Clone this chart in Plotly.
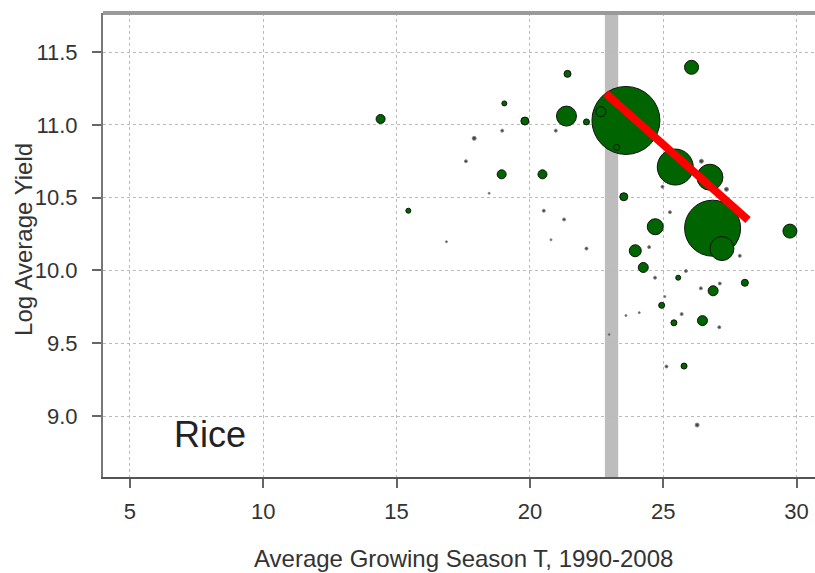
import plotly.graph_objects as go

# Average growing season temperature (deg C), 1990-2008
temps = [23.6, 25.45, 26.75, 26.85, 27.2, 21.37, 26.06, 24.7, 29.75, 23.95,
         24.25, 26.87, 26.47, 28.06, 25.4, 24.94, 23.52, 22.66, 23.25, 21.41,
         19.81, 20.97, 22.12, 20.47, 14.4, 19.04, 18.96, 17.91, 17.6, 18.94,
         18.47, 15.44, 16.87, 26.43, 24.97, 27.37, 20.52, 21.28, 20.79, 22.12,
         24.47, 25.25, 24.69, 25.56, 23.6, 24.1, 27.87, 25.85, 26.41, 27.12,
         25.69, 27.1, 25.12, 25.78, 26.27, 22.97, 25.06]
# Log average yield
log_yield = [11.03, 10.71, 10.64, 10.29, 10.15, 11.06, 11.395, 10.30, 10.27, 10.135,
             10.02, 9.86, 9.655, 9.915, 9.64, 9.76, 10.506, 11.09, 10.845, 11.35,
             11.026, 10.96, 11.02, 10.66, 11.04, 11.147, 10.96, 10.907, 10.75, 10.66,
             10.53, 10.41, 10.197, 10.75, 10.575, 10.557, 10.41, 10.35, 10.21, 10.15,
             10.16, 10.40, 9.95, 9.95, 9.69, 9.71, 10.10, 9.996, 9.877, 9.91,
             9.70, 9.61, 9.34, 9.343, 8.938, 9.56, 9.82]
# Relative production weight (bubble diameter)
weight = [68, 36, 26, 56, 24, 20, 14, 16, 14, 12,
          10, 10, 10, 7, 6, 6, 8, 10, 6, 7,
          8, 3, 6, 9, 9, 5, 3, 4, 3, 9,
          2, 5, 2, 4, 3, 4, 3, 3, 2, 3,
          3, 3, 3, 5, 2, 2, 3, 3, 3, 3,
          3, 3, 3, 6, 4, 2, 2]

# Threshold temperature and fitted slope above it
threshold_t = 23.06
fit_x = [22.84, 28.18]
fit_y = [11.216, 10.346]

x_ticks = [5, 10, 15, 20, 25, 30]
y_ticks = [9.0, 9.5, 10.0, 10.5, 11.0, 11.5]
y_tick_text = ["9.0", "9.5", "10.0", "10.5", "11.0", "11.5"]

x_title = "Average Growing Season T, 1990-2008"
y_title = "Log Average Yield"
panel_label = "Rice"

order = sorted(range(len(weight)), key=lambda i: -weight[i])
xs = [temps[i] for i in order]
ys = [log_yield[i] for i in order]
ws = [weight[i] for i in order]
cols = ["#006400" if w >= 5 else "#444444" for w in ws]
lcols = ["#111111" if w >= 5 else "#888888" for w in ws]

fig = go.Figure()
fig.add_trace(go.Scatter(
    x=xs, y=ys, mode="markers",
    marker=dict(size=ws, sizemode="diameter", color=cols, opacity=1,
                line=dict(color=lcols, width=1)),
    hoverinfo="x+y", showlegend=False))
fig.add_trace(go.Scatter(
    x=fit_x, y=fit_y, mode="lines",
    line=dict(color="#FF0000", width=8), showlegend=False))

fig.add_shape(type="rect", xref="x", yref="paper",
              x0=threshold_t - 0.25, x1=threshold_t + 0.25, y0=0, y1=1,
              fillcolor="#BDBDBD", line=dict(width=0), layer="between")
# top border
fig.add_shape(type="line", xref="paper", yref="paper", x0=0, x1=1, y0=1, y1=1,
              line=dict(color="#9A9A9A", width=4), layer="above")

FONT = "Liberation Sans, Arial, sans-serif"
fig.add_annotation(x=8.0, y=8.87, text=panel_label, showarrow=False,
                   font=dict(family=FONT, size=36, color="#222222"))
fig.add_annotation(xref="paper", yref="paper", x=0.506, y=-0.1746, text=x_title,
                   showarrow=False, xanchor="center", yanchor="middle",
                   font=dict(family=FONT, size=24, color="#333333"))
fig.add_annotation(xref="paper", yref="paper", x=-0.111, y=0.513, text=y_title,
                   showarrow=False, xanchor="center", yanchor="middle", textangle=-90,
                   font=dict(family=FONT, size=24, color="#333333"))

tick_font = dict(family=FONT, size=22, color="#333333")
fig.update_layout(
    width=815, height=573,
    margin=dict(l=103, r=0, t=13, b=96),
    paper_bgcolor="white", plot_bgcolor="white",
    font=dict(family=FONT, color="#333333"),
    xaxis=dict(range=[3.99, 30.69], tickvals=x_ticks, ticks="outside", ticklen=9,
               tickcolor="#666666", tickwidth=2, showline=True, linecolor="#555555", linewidth=2,
               showgrid=True, gridcolor="#BBBBBB", griddash="dot", gridwidth=1,
               zeroline=False, tickfont=tick_font, ticklabelstandoff=5, automargin=False),
    yaxis=dict(range=[8.581, 11.768], tickvals=y_ticks, ticktext=y_tick_text, ticks="outside", ticklen=9,
               tickcolor="#666666", tickwidth=2, showline=True, linecolor="#777777", linewidth=2,
               showgrid=True, gridcolor="#BBBBBB", griddash="dot", gridwidth=1,
               zeroline=False, tickfont=tick_font, ticklabelstandoff=10, automargin=False),
)

fig.write_html("out.html", config={"displayModeBar": False},
               post_script="document.body.style.margin='0';")
